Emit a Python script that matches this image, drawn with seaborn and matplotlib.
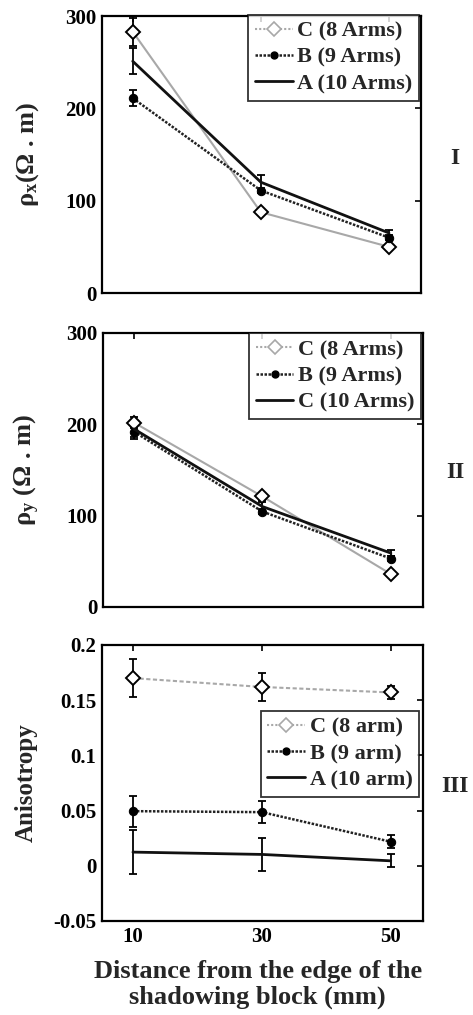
import matplotlib
matplotlib.use("Agg")
import matplotlib.pyplot as plt
import seaborn as sns
import numpy as np
import pandas as pd
from matplotlib.lines import Line2D

sns.set_theme(style="white")
plt.rcParams['font.family'] = ['Liberation Serif', 'DejaVu Serif']
plt.rcParams['font.weight'] = 'bold'
plt.rcParams['mathtext.fontset'] = 'custom'
plt.rcParams['mathtext.rm'] = 'Liberation Serif:bold'
plt.rcParams['mathtext.it'] = 'Liberation Serif:bold'

distance = [10, 30, 50]

# Panel I: rho_x
rx_C = [283, 87.5, 50]
rx_C_err = [15, 3, 3]
rx_B = [211, 111, 60]
rx_B_err = [9, 3, 3]
rx_A = [251, 120, 65]
rx_A_err = [14, 8, 3]

# Panel II: rho_y
ry_C = [202, 121, 36]
ry_C_err = [6, 4, 3]
ry_B = [192, 104.5, 53]
ry_B_err = [8, 3, 3]
ry_A = [195, 110, 59]
ry_A_err = [9, 5, 3]

# Panel III: anisotropy
an_C = [0.170, 0.162, 0.157]
an_C_err = [0.017, 0.0127, 0.006]
an_B = [0.0495, 0.0486, 0.0218]
an_B_err = [0.014, 0.010, 0.006]
an_A = [0.0124, 0.0103, 0.0045]
an_A_err = [0.020, 0.015, 0.006]

labels1 = ["C (8 Arms)", "B (9 Arms)", "A (10 Arms)"]
labels2 = ["C (8 Arms)", "B (9 Arms)", "C (10 Arms)"]
labels3 = ["C (8 arm)", "B (9 arm)", "A (10 arm)"]

GRAY = "#a8a8a8"
W, H = 473, 1015
fig = plt.figure(figsize=(W / 100, H / 100), dpi=100)

def axes_rect(l, r, t, b):
    return [l / W, 1 - b / H, (r - l) / W, (b - t) / H]

ax1 = fig.add_axes(axes_rect(102, 421, 16, 293))
ax2 = fig.add_axes(axes_rect(103, 423, 333, 607))
ax3 = fig.add_axes(axes_rect(102, 423, 645, 921))

def draw(ax, C, Ce, B, Be, A, Ae, labels, legend_bbox, legend_fs, c_style):
    for y, e in [(C, Ce), (B, Be), (A, Ae)]:
        ax.errorbar(distance, y, yerr=e, fmt='none', ecolor='black',
                    elinewidth=1.3, capsize=3, capthick=1.3, zorder=2)
    dfC = pd.DataFrame({"x": distance, "y": C})
    dfB = pd.DataFrame({"x": distance, "y": B})
    dfA = pd.DataFrame({"x": distance, "y": A})
    sns.lineplot(data=dfC, x="x", y="y", ax=ax, color=GRAY, linewidth=1.5,
                 linestyle=c_style,
                 marker='D', markersize=7.5, markerfacecolor='white',
                 markeredgecolor='black', markeredgewidth=1.4, zorder=3)
    sns.lineplot(data=dfB, x="x", y="y", ax=ax, color='#222222', linewidth=1.8,
                 linestyle=(0, (1, 0.6)), marker='o', markersize=6,
                 markerfacecolor='black', markeredgecolor='black', zorder=4)
    sns.lineplot(data=dfA, x="x", y="y", ax=ax, color='#111111', linewidth=2.0,
                 zorder=5)
    handles = [
        Line2D([], [], color=GRAY, linestyle=(0, (1, 1)), linewidth=1.5, marker='D',
               markersize=7.5, markerfacecolor='white', markeredgecolor=GRAY,
               markeredgewidth=1.2),
        Line2D([], [], color='#222222', linestyle=(0, (1, 0.6)), linewidth=1.8,
               marker='o', markersize=5, markerfacecolor='black', markeredgecolor='black'),
        Line2D([], [], color='#111111', linewidth=2.0),
    ]
    leg = ax.legend(handles, labels, loc='upper right', bbox_to_anchor=legend_bbox,
                    frameon=True, fancybox=False, edgecolor='black',
                    prop={'family': 'Liberation Serif', 'weight': 'bold', 'size': legend_fs},
                    handlelength=1.7, handletextpad=0.2, borderpad=0.3,
                    labelspacing=0.25, borderaxespad=0.0)
    leg.get_frame().set_linewidth(1.3)
    ax.set_xlim(5.2, 55)
    ax.set_xticks(distance)
    ax.tick_params(direction='in', top=True, right=True, length=4, width=1.2,
                   labelsize=15, pad=4, colors='black')
    for s in ax.spines.values():
        s.set_linewidth(1.6)
        s.set_color('black')
    ax.set_xlabel("")

draw(ax1, rx_C, rx_C_err, rx_B, rx_B_err, rx_A, rx_A_err, labels1,
     (0.994, 1.005), 16, '-')
ax1.set_ylim(0, 300)
ax1.set_yticks([0, 100, 200, 300])
ax1.set_xticklabels([])
ax1.set_ylabel(r"ρ$_{\mathregular{x}}$(Ω . m)", fontsize=19, fontweight='bold')
ax1.yaxis.set_label_coords(-0.19, 0.5)

draw(ax2, ry_C, ry_C_err, ry_B, ry_B_err, ry_A, ry_A_err, labels2,
     (0.994, 1.0), 16, '-')
ax2.set_ylim(0, 300)
ax2.set_yticks([0, 100, 200, 300])
ax2.set_xticklabels([])
ax2.set_ylabel(r"ρ$_{\mathregular{y}}$ (Ω . m)", fontsize=19, fontweight='bold')
ax2.yaxis.set_label_coords(-0.19, 0.5)

draw(ax3, an_C, an_C_err, an_B, an_B_err, an_A, an_A_err, labels3,
     (0.988, 0.762), 16, (0, (2, 1.2)))
ax3.set_ylim(-0.05, 0.2)
ax3.set_yticks([-0.05, 0, 0.05, 0.1, 0.15, 0.2])
ax3.set_yticklabels(["-0.05", "0", "0.05", "0.1", "0.15", "0.2"])
ax3.set_ylabel("Anisotropy", fontsize=18, fontweight='bold')
ax3.yaxis.set_label_coords(-0.2, 0.5)
ax3.set_xticklabels(["10", "30", "50"])
ax3.set_xlabel("Distance from the edge of the\nshadowing block (mm)", fontsize=19,
               fontweight='bold', linespacing=1.15)
ax3.xaxis.set_label_coords(0.485, -0.14)

fig.text(455 / W, 1 - 159 / H, "I", fontsize=17, fontweight='bold', ha='center', va='center')
fig.text(455 / W, 1 - 472 / H, "II", fontsize=17, fontweight='bold', ha='center', va='center')
fig.text(455 / W, 1 - 787 / H, "III", fontsize=17, fontweight='bold', ha='center', va='center')

fig.savefig("out.png", dpi=100, facecolor='white')
